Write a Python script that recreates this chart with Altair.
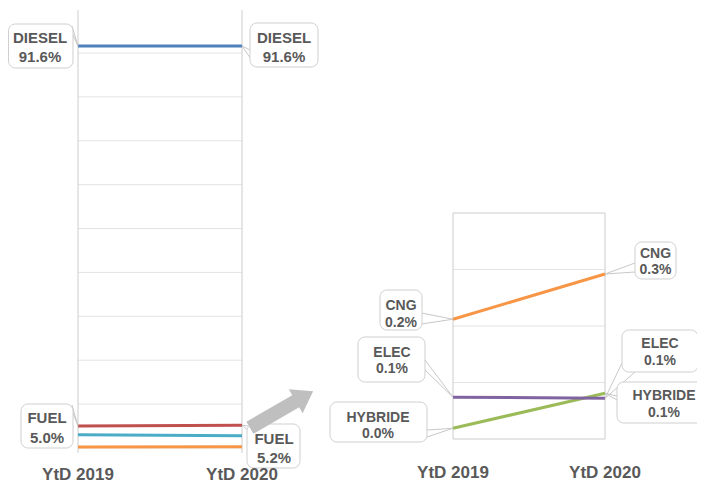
import altair as alt
import pandas as pd

# ---------------- data ----------------
series = ["DIESEL", "FUEL", "LPG", "CNG", "ELEC", "HYBRIDE"]
share_2019 = [91.6, 5.0, 3.0, 0.212, 0.074, 0.019]
share_2020 = [91.6, 5.2, 2.8, 0.292, 0.072, 0.081]
colors = ["#4F81BD", "#C0504D", "#4BACC6", "#F79646", "#8064A2", "#9BBB59"]
periods = ["YtD 2019", "YtD 2020"]
left_grid = [0, 10, 20, 30, 40, 50, 60, 70, 80, 90]
right_grid = [0.1, 0.2, 0.3]
left_series = ["LPG", "CNG", "FUEL", "DIESEL"]
zoom_series = ["CNG", "HYBRIDE", "ELEC"]

# ---------------- layout ----------------
W, H = 689, 476
LX_RANGE = [70, 234]
LY_DOMAIN = [-1.15, 99.8]
LY_RANGE = [445, 2]
RX_RANGE = [445, 597]
RY_DOMAIN = [0, 0.4]
RY_RANGE = [431, 205]

LEFT_X = alt.Scale(domain=[0, 1], range=LX_RANGE, nice=False, zero=False)
LEFT_Y = alt.Scale(domain=LY_DOMAIN, range=LY_RANGE, nice=False, zero=False)
RIGHT_X = alt.Scale(domain=[0, 1], range=RX_RANGE, nice=False, zero=False)
RIGHT_Y = alt.Scale(domain=RY_DOMAIN, range=RY_RANGE, nice=False, zero=False)


def lin(v, d, r):
    return r[0] + (v - d[0]) * (r[1] - r[0]) / (d[1] - d[0])


def point_px(panel, t, v):
    if panel == "L":
        return lin(t, [0, 1], LX_RANGE), lin(v, LY_DOMAIN, LY_RANGE)
    return lin(t, [0, 1], RX_RANGE), lin(v, RY_DOMAIN, RY_RANGE)


LAYOUT = {
    ("DIESEL", 0): dict(box=(0.5, 16, 65, 60), tx=32, b1=35, b2=54, ptr=[(64, 18), (65, 27)], fs=15, panel="L"),
    ("DIESEL", 1): dict(box=(242, 15, 310, 59), tx=276, b1=35, b2=54, ptr=[(242, 42), (245, 54)], fs=15, panel="L"),
    ("FUEL", 0): dict(box=(13, 396, 65, 440), tx=39, b1=415, b2=434.5, ptr=[(64, 397), (65, 405)], fs=15, panel="L"),
    ("FUEL", 1): dict(box=(239, 416, 292, 460), tx=266, b1=436, b2=455, ptr=[(240, 418), (242, 424)], fs=15, panel="L"),
    ("CNG", 0): dict(box=(372, 282, 414, 322), tx=393, b1=302, b2=318.5, ptr=[(413.5, 305), (413.5, 316)], fs=14, panel="R"),
    ("CNG", 1): dict(box=(627, 234, 668, 271), tx=647.5, b1=250, b2=266, ptr=[(627, 255), (627, 264)], fs=14, panel="R"),
    ("ELEC", 0): dict(box=(350, 329, 417, 374), tx=384, b1=348.5, b2=365, ptr=[(417, 352), (417, 362)], fs=14, panel="R"),
    ("ELEC", 1): dict(box=(614, 322, 690, 364), tx=652, b1=340, b2=357, ptr=[(614, 355), (627, 364)], fs=14, panel="R"),
    ("HYBRIDE", 0): dict(box=(322, 394, 419, 434), tx=370, b1=413.5, b2=429.5, ptr=[(419, 422), (419, 429)], fs=14, panel="R"),
    ("HYBRIDE", 1): dict(box=(609, 374, 699, 415), tx=656, b1=392, b2=408.5, ptr=[(609, 388), (609, 392)], fs=14, panel="R"),
}

TEXT = "#595959"
FONT = "Liberation Sans"

# ---------------- tables ----------------
rows = []
for s, a, b in zip(series, share_2019, share_2020):
    rows.append({"series": s, "t": 0, "value": a, "period": periods[0]})
    rows.append({"series": s, "t": 1, "value": b, "period": periods[1]})
lines = pd.DataFrame(rows)

color = alt.Color("series:N", scale=alt.Scale(domain=series, range=colors), legend=None)

boxes, texts, leaders = [], [], []
for (s, t), lay in LAYOUT.items():
    v = (share_2019 if t == 0 else share_2020)[series.index(s)]
    px, py = point_px(lay["panel"], t, v)
    x0, y0, x1, y1 = lay["box"]
    boxes.append({"x0": x0, "y0": y0, "x1": x1, "y1": y1})
    texts.append({"x": lay["tx"], "y": lay["b1"], "txt": s, "fs": lay["fs"]})
    texts.append({"x": lay["tx"], "y": lay["b2"], "txt": f"{v:.1f}%", "fs": lay["fs"]})
    for fx, fy in lay["ptr"]:
        leaders.append({"x0": fx, "y0": fy, "x1": px, "y1": py})
boxes = pd.DataFrame(boxes)
texts = pd.DataFrame(texts)
leaders = pd.DataFrame(leaders)

period_df = pd.DataFrame({"t": [0, 1], "period": periods})
edges_df = pd.DataFrame({"t": [0, 1]})

layers = []

# left panel grid + edges
layers.append(
    alt.Chart(pd.DataFrame({"g": left_grid})).mark_rule(color="#e3e3e3", strokeWidth=1).encode(
        y=alt.Y("g:Q", scale=LEFT_Y, axis=None),
        x=alt.value(LX_RANGE[0]), x2=alt.value(LX_RANGE[1]),
    )
)
layers.append(
    alt.Chart(edges_df).mark_rule(color="#cccccc", strokeWidth=1).encode(
        x=alt.X("t:Q", scale=LEFT_X, axis=None),
        y=alt.value(LY_RANGE[1]), y2=alt.value(LY_RANGE[0]),
    )
)
for s in left_series:
    layers.append(
        alt.Chart(lines[lines.series == s]).mark_line(strokeWidth=3).encode(
            x=alt.X("t:Q", scale=LEFT_X, axis=None),
            y=alt.Y("value:Q", scale=LEFT_Y, axis=None),
            color=color,
        )
    )

# right panel grid + box
layers.append(
    alt.Chart(pd.DataFrame({"g": right_grid})).mark_rule(color="#e3e3e3", strokeWidth=1).encode(
        y=alt.Y("g:Q", scale=RIGHT_Y, axis=None),
        x=alt.value(RX_RANGE[0]), x2=alt.value(RX_RANGE[1]),
    )
)
layers.append(
    alt.Chart(pd.DataFrame({"a": [0], "b": [1], "lo": [RY_DOMAIN[0]], "hi": [RY_DOMAIN[1]]}))
    .mark_rect(fill=None, stroke="#cccccc", strokeWidth=1)
    .encode(
        x=alt.X("a:Q", scale=RIGHT_X, axis=None), x2="b:Q",
        y=alt.Y("lo:Q", scale=RIGHT_Y, axis=None), y2="hi:Q",
    )
)
for s in zoom_series:
    layers.append(
        alt.Chart(lines[lines.series == s]).mark_line(strokeWidth=3).encode(
            x=alt.X("t:Q", scale=RIGHT_X, axis=None),
            y=alt.Y("value:Q", scale=RIGHT_Y, axis=None),
            color=color,
        )
    )

# callouts
layers.append(
    alt.Chart(leaders).mark_rule(color="#c8c8c8", strokeWidth=1).encode(
        x=alt.X("x0:Q", scale=None, axis=None), y=alt.Y("y0:Q", scale=None, axis=None),
        x2="x1:Q", y2="y1:Q",
    )
)
layers.append(
    alt.Chart(boxes).mark_rect(fill="white", stroke="#cfcfcf", strokeWidth=1, cornerRadius=7).encode(
        x=alt.X("x0:Q", scale=None, axis=None), x2="x1:Q",
        y=alt.Y("y0:Q", scale=None, axis=None), y2="y1:Q",
    )
)
layers.append(
    alt.Chart(texts).mark_text(font=FONT, fontWeight="bold", color=TEXT, align="center", baseline="alphabetic").encode(
        x=alt.X("x:Q", scale=None, axis=None), y=alt.Y("y:Q", scale=None, axis=None),
        text="txt:N", size=alt.Size("fs:Q", scale=None, legend=None),
    )
)

# period labels
layers.append(
    alt.Chart(period_df).mark_text(font=FONT, fontWeight="bold", fontSize=17, color=TEXT, align="center", baseline="alphabetic").encode(
        x=alt.X("t:Q", scale=LEFT_X, axis=None), y=alt.value(472), text="period:N",
    )
)
layers.append(
    alt.Chart(period_df).mark_text(font=FONT, fontWeight="bold", fontSize=17, color=TEXT, align="center", baseline="alphabetic").encode(
        x=alt.X("t:Q", scale=RIGHT_X, axis=None), y=alt.value(470), text="period:N",
    )
)

# zoom arrow
ARROW = "M -1 -0.19 L 0.45 -0.19 L 0.45 -0.38 L 1 0 L 0.45 0.38 L 0.45 0.19 L -1 0.19 Z"
layers.append(
    alt.Chart(pd.DataFrame({"a": [0]})).mark_point(
        shape=ARROW, filled=True, color="#bfbfbf", opacity=1, size=5329, angle=330, strokeWidth=0
    ).encode(x=alt.value(273.5), y=alt.value(401.5))
)

chart = (
    alt.layer(*layers)
    .resolve_scale(x="independent", y="independent", size="independent")
    .properties(width=W, height=H, padding=0, autosize=alt.AutoSizeParams(type="none"))
    .configure_view(stroke=None)
)

chart.save("out.html", embed_options={"renderer": "svg", "actions": False})
